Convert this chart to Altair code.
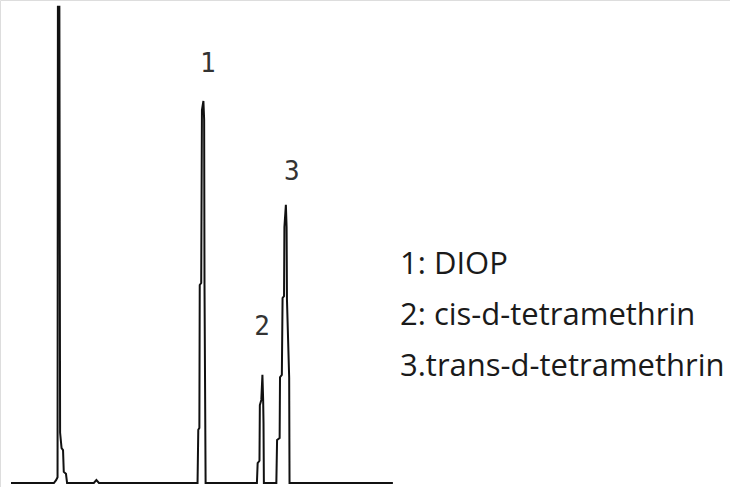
import altair as alt
import pandas as pd

# Chromatogram trace (retention time in min, detector signal in mV)
time_min = [0.30, 1.47, 1.53, 1.57, 1.58, 1.62, 1.64, 1.68, 1.72, 1.74, 1.80, 1.83,
            2.56, 2.63, 2.70,
            5.39, 5.41, 5.44, 5.45, 5.49, 5.51, 5.55, 5.57, 5.58, 5.61,
            7.01, 7.03, 7.08, 7.09, 7.13, 7.16, 7.18, 7.19, 7.20,
            7.54, 7.56, 7.63, 7.64, 7.69, 7.71, 7.75, 7.76, 7.80, 7.82, 7.83, 7.89, 7.90,
            10.72]
signal_mv = [0.0, 0.0, 0.6, 1.2, 98.6, 98.6, 10.4, 7.2, 6.8, 2.3, 1.9, 0.0,
             0.0, 0.6, 0.0,
             0.0, 11.0, 11.4, 41.0, 41.4, 77.2, 79.1, 75.2, 41.0, 0.0,
             0.0, 4.1, 4.6, 16.1, 17.2, 22.4, 17.2, 12.4, 0.0,
             0.0, 8.9, 9.3, 21.9, 22.4, 38.3, 38.7, 53.0, 57.6, 53.0, 37.9, 21.9, 0.0,
             0.0]

# Peak number labels (anchor in data units)
peak_labels = ["1", "2", "3"]
label_time = [5.67, 7.15, 7.96]
label_signal = [86.8, 32.3, 64.4]

# Compound legend
legend_lines = ["1: DIOP", "2: cis-d-tetramethrin", "3.trans-d-tetramethrin"]

trace = pd.DataFrame({"t": time_min, "s": signal_mv, "i": range(len(time_min))})
labels = pd.DataFrame({"t": label_time, "s": label_signal, "lab": peak_labels})

xs = alt.Scale(domain=[0, 19.918], nice=False, zero=False)
ys = alt.Scale(domain=[-0.83, 100], nice=False, zero=False)

line = alt.Chart(trace).mark_line(color="#111111", strokeWidth=2, interpolate="linear").encode(
    x=alt.X("t:Q", scale=xs, axis=None),
    y=alt.Y("s:Q", scale=ys, axis=None),
    order="i:Q",
)

peak_text = alt.Chart(labels).mark_text(
    font="DejaVu Sans Mono", fontSize=26, color="#333333", baseline="middle", align="center"
).encode(
    x=alt.X("t:Q", scale=xs, axis=None),
    y=alt.Y("s:Q", scale=ys, axis=None),
    text="lab:N",
)

legend = alt.Chart(pd.DataFrame({"k": [0]})).mark_text(
    font="Open Sans", fontSize=31, color="#1a1a1a", align="left", baseline="alphabetic",
    lineHeight=51,
).encode(
    x=alt.value(400),
    y=alt.value(274),
    text=alt.value(legend_lines),
)

chart = alt.layer(line, peak_text, legend).properties(
    width=730, height=487, padding=0, autosize=alt.AutoSizeParams(type="none")
).configure_view(stroke=None).configure(background="white")

chart.save("out.html", embed_options={"renderer": "svg", "actions": False})
